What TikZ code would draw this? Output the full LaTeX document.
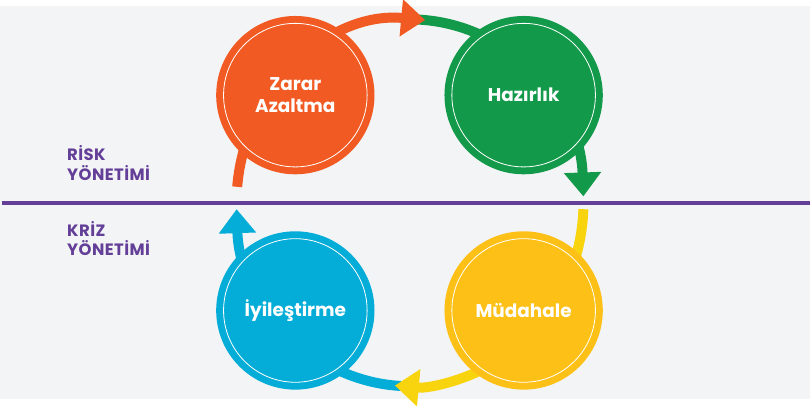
\documentclass[tikz,border=0pt]{standalone}
\usepackage{fontspec}
\setmainfont{Poppins}
\newfontfamily\sidefont{Poppins}[LetterSpace=2.5]
\usepackage{tikz}
\usetikzlibrary{arrows.meta}
\definecolor{bgc}{HTML}{F3F4F6}
\definecolor{purp}{HTML}{643F98}
\definecolor{orng}{HTML}{F15A22}
\definecolor{grn}{HTML}{12994A}
\definecolor{ylw}{HTML}{FCC016}
\definecolor{lemon}{HTML}{F8D40E}
\definecolor{blu}{HTML}{04ADD7}

\begin{document}
\begin{tikzpicture}[x=1pt,y=1pt,
  stage/.style={circle,draw=#1,fill=#1,double=white,double distance=0.8pt,line width=7pt,
    minimum size=144pt,inner sep=0pt,text=white,align=center,
    font=\fontsize{18.5}{23}\selectfont\bfseries},
  flow/.style={line width=10pt,draw=#1,-{Triangle[width=36pt,length=24pt]}},
  side/.style={anchor=west,align=left,inner sep=0pt,text=purp,
    font=\fontsize{16.5}{19.5}\selectfont\sidefont\bfseries}]
\fill[bgc] (0,0) rectangle (812,394);
\draw[purp,line width=4.5pt] (2,197) -- (812,197);

% cycle ellipse
\coordinate (c) at (411,197);
\path (c) ++(175:174pt and 184pt) coordinate (z0);
\path (c) ++(88:174pt and 184pt) coordinate (h0);
\path (c) ++(-2:174pt and 184pt) coordinate (m0);
\path (c) ++(-93:174pt and 184pt) coordinate (i0);
\draw[flow=grn] (h0) arc[start angle=88,end angle=2,x radius=174pt,y radius=184pt];
\draw[flow=blu] (i0) arc[start angle=-93,end angle=-178,x radius=174pt,y radius=184pt];
\draw[flow=orng] (z0) arc[start angle=175,end angle=85,x radius=174pt,y radius=184pt];
\draw[flow=lemon] (m0) arc[start angle=-2,end angle=-95,x radius=174pt,y radius=184pt];

% stages
\node[stage=orng] (za) at (296,305) {Zarar\\Azaltma};
\node[stage=grn] (hz) at (525,305) {Hazırlık};
\node[stage=ylw] (md) at (525,89) {Müdahale};
\node[stage=blu] (iy) at (296,89) {İyileştirme};

\node[side] (rk) at (67,237) {RİSK\\YÖNETİMİ};
\node[side] (kz) at (67,161) {KRİZ\\YÖNETİMİ};
\end{tikzpicture}
\end{document}
